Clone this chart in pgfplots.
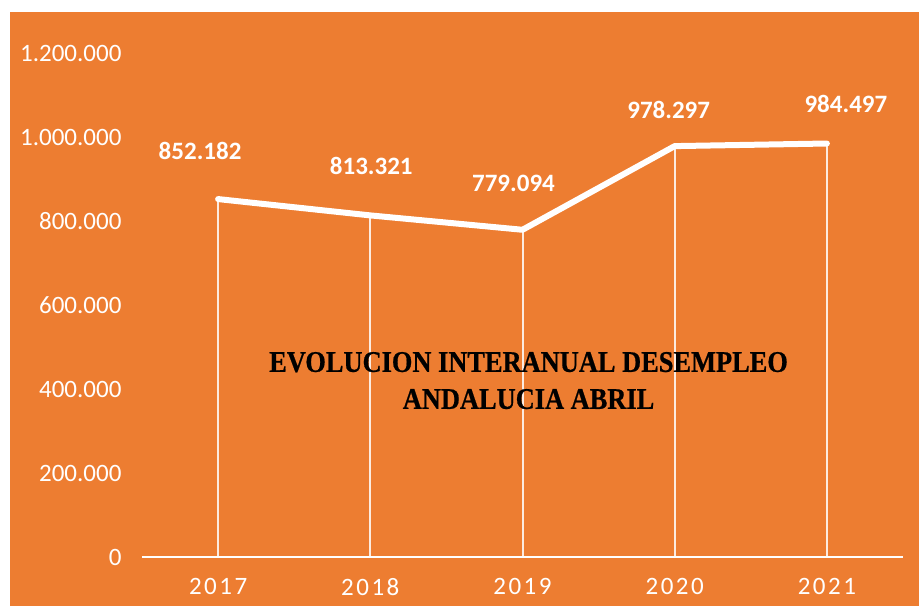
\documentclass[border=0pt]{standalone}
\usepackage{fontspec}
\setmainfont{Carlito}
\newfontfamily\titlefont[FakeStretch=0.88, FakeBold=0.6]{Liberation Serif}
\usepackage{pgfplots}
\usepackage{pgfplotstable}
\pgfplotsset{compat=1.18}

\definecolor{bgorange}{HTML}{ED7D31}

% year index, value, label, label offset (bp)
\pgfplotstableread{
x  y       lab      dx   dy
0  852182  852.182  -18  48
1  813321  813.321  1    49
2  779094  779.094  -9   46
3  978297  978.297  -6   36
4  984497  984.497  19   40
}\paro

\begin{document}
\begin{tikzpicture}
% page background (white margin top/left, orange chart area)
\fill[white] (-142bp,-49bp) rectangle (777bp,557bp);
\fill[bgorange] (-132bp,-49bp) rectangle (777bp,545bp);

\begin{axis}[
    scale only axis,
    width=761bp,
    height=504bp,
    xmin=-0.5, xmax=4.5,
    ymin=0, ymax=1200000,
    scaled y ticks=false,
    xtick=data,
    xticklabels={2017,2018,2019,2020,2021},
    ytick={0,200000,400000,600000,800000,1000000,1200000},
    yticklabels={0,200.000,400.000,600.000,800.000,1.000.000,1.200.000},
    major tick length=0pt,
    axis lines*=left,
    x axis line style={white, line width=2bp},
    y axis line style={draw=none},
    tick label style={white, font=\fontsize{25bp}{30bp}\selectfont},
    xticklabel style={yshift=-18bp, font=\fontsize{25bp}{30bp}\selectfont\addfontfeature{LetterSpace=10}},
    yticklabel style={xshift=-17bp},
    clip=false,
]
% drop lines
\addplot[ycomb, white, line width=2bp, opacity=0.85] table[x=x, y=y] {\paro};
% main line with labels
\addplot[white, line width=6bp, line cap=round, line join=round,
    point meta=explicit symbolic,
    visualization depends on={\thisrow{dx} \as \dx},
    visualization depends on={\thisrow{dy} \as \dy},
    nodes near coords,
    nodes near coords style={anchor=center, white,
        font=\fontsize{25bp}{30bp}\selectfont\bfseries,
        xshift=\dx bp, yshift=\dy bp},
] table[x=x, y=y, meta=lab] {\paro};

\node[align=center, black, font=\titlefont\fontsize{30bp}{37bp}\selectfont\bfseries]
    at (rel axis cs:0.508,0.35) {EVOLUCION INTERANUAL DESEMPLEO\\ANDALUCIA ABRIL};
\end{axis}

\pgfresetboundingbox
\path (-142bp,-49bp) rectangle (777bp,557bp);
\end{tikzpicture}
\end{document}
